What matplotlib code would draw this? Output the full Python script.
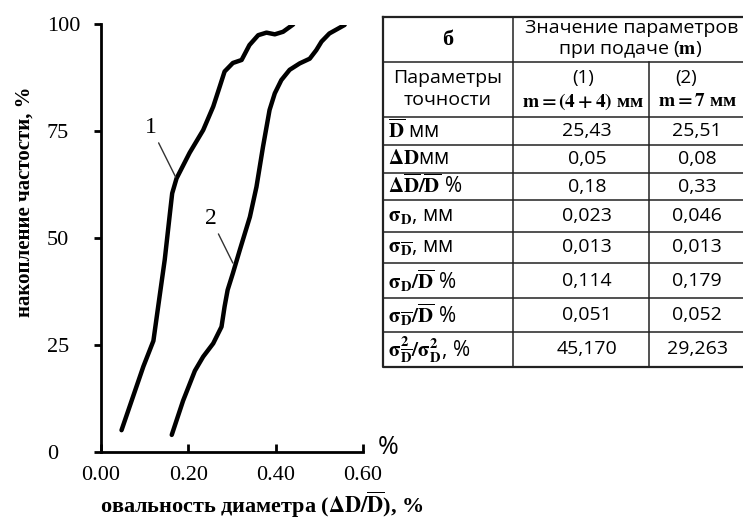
import matplotlib

matplotlib.use("Agg")
import matplotlib.pyplot as plt
from matplotlib.patches import Circle

plt.rcParams["mathtext.fontset"] = "stix"

# curve 1: m = (4+4) mm, curve 2: m = 7 mm  (x = ovality %, y = cumulative frequency %)
x1 = [0.047, 0.097, 0.120, 0.135, 0.146, 0.158, 0.163, 0.173, 0.203, 0.234, 0.257,
      0.272, 0.283, 0.302, 0.322, 0.340, 0.360, 0.379, 0.398, 0.417, 0.440]
y1 = [5.1, 20.0, 26.0, 37.0, 45.0, 56.0, 60.5, 64.0, 70.0, 75.3, 80.8,
      85.5, 89.0, 91.0, 91.7, 95.2, 97.5, 98.1, 97.7, 98.3, 100.0]
x2 = [0.162, 0.188, 0.215, 0.234, 0.257, 0.276, 0.283, 0.290, 0.302, 0.318, 0.341,
      0.356, 0.371, 0.386, 0.398, 0.413, 0.432, 0.455, 0.478, 0.493, 0.505, 0.523, 0.558]
y2 = [4.0, 12.0, 19.0, 22.3, 25.4, 29.3, 34.0, 37.9, 41.8, 47.3, 55.0,
      62.0, 71.4, 80.0, 83.9, 87.0, 89.4, 90.9, 92.0, 94.0, 96.0, 97.9, 99.9]

xticks = [0.0, 0.2, 0.4, 0.6]
xtick_labels = ["0.00", "0.20", "0.40", "0.60"]
yticks = [0, 25, 50, 75, 100]

# table (b)
row_labels = [
    r"$\mathbf{\overline{D}}$ мм",
    r"$\mathbf{\Delta D}$мм",
    r"$\mathbf{\Delta\overline{D}/\overline{D}}$ %",
    r"$\mathbf{\sigma_{D}}$, мм",
    r"$\mathbf{\sigma_{\overline{D}}}$, мм",
    r"$\mathbf{\sigma_{D}/\overline{D}}$ %",
    r"$\mathbf{\sigma_{\overline{D}}/\overline{D}}$ %",
    r"$\mathbf{\sigma^2_{\overline{D}}/\sigma^2_{D}}$, %",
]
col1 = ["25,43", "0,05", "0,18", "0,023", "0,013", "0,114", "0,051", "45,170"]
col2 = ["25,51", "0,08", "0,33", "0,046", "0,013", "0,179", "0,052", "29,263"]

serif = ["Liberation Serif", "DejaVu Serif"]
sans = ["Open Sans", "DejaVu Sans"]

fig = plt.figure(figsize=(7.43, 5.2), dpi=100)
ax = fig.add_axes([101 / 743, 1 - 452 / 520, 262 / 743, 427.5 / 520])

ax.plot(x1, y1, color="black", lw=3.2, solid_capstyle="round", solid_joinstyle="round")
ax.plot(x2, y2, color="black", lw=3.2, solid_capstyle="round", solid_joinstyle="round")

ax.set_xlim(0, 0.6)
ax.set_ylim(0, 100)
ax.spines["top"].set_visible(False)
ax.spines["right"].set_visible(False)
for s in ("left", "bottom"):
    ax.spines[s].set_linewidth(2)
ax.set_xticks(xticks, xtick_labels, family=serif, fontsize=16)
ax.set_yticks(yticks, [str(v) for v in yticks], family=serif, fontsize=16, ha="left")
ax.tick_params(axis="x", direction="in", length=6, width=2, pad=10)
ax.tick_params(axis="y", direction="out", length=5, width=2, pad=34)

# curve labels with leader lines
ax.annotate("1", xy=(0.171, 64.3), xytext=(0.114, 76), fontsize=17, family=serif,
            ha="center", va="center",
            arrowprops=dict(arrowstyle="-", color="#333333", lw=1, shrinkA=2, shrinkB=0))
ax.annotate("2", xy=(0.302, 44.2), xytext=(0.251, 54.7), fontsize=17, family=serif,
            ha="center", va="center",
            arrowprops=dict(arrowstyle="-", color="#333333", lw=1, shrinkA=2, shrinkB=0))

# overlay in pixel coordinates for panel marks, labels and the table
ov = fig.add_axes([0, 0, 1, 1], zorder=-1)
ov.set_xlim(0, 743)
ov.set_ylim(520, 0)
ov.axis("off")

ov.add_patch(Circle((156, 46), 16.5, fill=False, lw=1.3, color="#333333"))
ov.text(156, 45, "a", fontsize=19, family=serif, ha="center", va="center")
ov.text(378, 448, "%", fontsize=18, family=sans, ha="left", va="center")

fig.text(25 / 743, 1 - 202 / 520, "накопление частости, %", rotation=90, fontsize=15,
         family=serif, weight="bold", ha="center", va="center")
fig.text(262 / 743, 1 - 505 / 520, r"овальность диаметра ($\mathbf{\Delta D/\overline{D}}$), %",
         fontsize=16, family=serif, weight="bold", ha="center", va="center")

cx = [383, 513, 649, 748]
ry = [17, 62, 117, 145, 173, 200, 232, 263, 298, 332, 367]

for y in ry[1:-1]:
    ov.plot([cx[0], cx[-1]], [y, y], color="#222222", lw=1.1)
ov.plot([cx[1], cx[1]], [ry[0], ry[-1]], color="#222222", lw=1.1)
ov.plot([cx[2], cx[2]], [ry[1], ry[-1]], color="#222222", lw=1.1)
ov.plot([cx[0], cx[-1], cx[-1], cx[0], cx[0]], [ry[0], ry[0], ry[-1], ry[-1], ry[0]],
        color="#222222", lw=1.6)

ov.text(448, 40, "б", fontsize=16, family=serif, weight="bold", ha="center", va="center")
ov.text(632, 28, "Значение параметров", fontsize=14, family=sans, ha="center", va="center")
ov.text(630, 49, "при подаче ($\\mathbf{m}$)", fontsize=14, family=sans, ha="center", va="center")
ov.text(448, 78, "Параметры", fontsize=14, family=sans, ha="center", va="center")
ov.text(448, 100, "точности", fontsize=14, family=sans, ha="center", va="center")
ov.text(583, 78, "(1)", fontsize=13.5, family=sans, ha="center", va="center")
ov.text(583, 102, r"$\mathbf{m=(4+4)}$ мм", fontsize=14, family=serif, weight="bold",
        ha="center", va="center")
ov.text(686, 78, "(2)", fontsize=13.5, family=sans, ha="center", va="center")
ov.text(697, 102, r"$\mathbf{m = 7}$ мм", fontsize=14, family=serif, weight="bold",
        ha="center", va="center")

for i, (lab, a, b) in enumerate(zip(row_labels, col1, col2)):
    yc = (ry[i + 2] + ry[i + 3]) / 2
    ov.text(388, yc, lab, fontsize=15, family=sans, ha="left", va="center")
    ov.text(587, yc, a, fontsize=14, family=sans, ha="center", va="center")
    ov.text(697, yc, b, fontsize=14, family=sans, ha="center", va="center")

fig.savefig("out.png", dpi=100)
